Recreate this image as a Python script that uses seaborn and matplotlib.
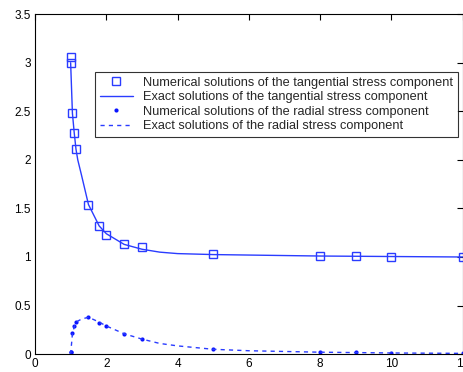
import matplotlib
matplotlib.use('Agg')
import matplotlib.pyplot as plt
import seaborn as sns

# numerical tangential stress (squares)
r_num = [1.0, 1.0, 1.05, 1.1, 1.15, 1.5, 1.8, 2.0, 2.5, 3.0, 5.0, 8.0, 9.0, 10.0, 12.0]
tang_num = [3.06, 3.0, 2.48, 2.28, 2.11, 1.54, 1.32, 1.23, 1.13, 1.10, 1.03, 1.01, 1.01, 1.0, 1.0]
# numerical radial stress (dots)
rad_num = [0.02, 0.02, 0.22, 0.29, 0.33, 0.38, 0.32, 0.29, 0.21, 0.155, 0.05, 0.025, 0.02, 0.015, 0.01]

# exact curves
r_ex = [1.0, 1.05, 1.1, 1.15, 1.2, 1.3, 1.5, 1.8, 2.0, 2.5, 3.0, 3.5, 4.0, 5.0, 6.0, 8.0, 10.0, 12.0]
tang_ex = [3.0, 2.48, 2.28, 2.11, 2.0, 1.85, 1.54, 1.32, 1.24, 1.13, 1.08, 1.05, 1.035, 1.025, 1.02, 1.01, 1.005, 1.0]
rad_ex = [0.0, 0.21, 0.28, 0.32, 0.34, 0.36, 0.38, 0.33, 0.29, 0.21, 0.155, 0.11, 0.085, 0.05, 0.035, 0.02, 0.012, 0.008]

blue = '#2a3cff'

sns.set_style('white')
plt.rcParams['font.family'] = ['Liberation Sans', 'DejaVu Sans']

fig = plt.figure(figsize=(4.64, 3.72), dpi=100)
ax = fig.add_axes([0.0754, 0.048, 0.922, 0.914])

sns.lineplot(x=r_num, y=tang_num, ax=ax, estimator=None, sort=False, linestyle='none',
             marker='s', markersize=6, markerfacecolor='none', markeredgecolor=blue,
             markeredgewidth=1.0, color=blue,
             label='Numerical solutions of the tangential stress component')
sns.lineplot(x=r_ex, y=tang_ex, ax=ax, estimator=None, color=blue, linewidth=1.0,
             label='Exact solutions of the tangential stress component')
sns.lineplot(x=r_num, y=rad_num, ax=ax, estimator=None, sort=False, linestyle='none',
             marker='o', markersize=3, markeredgewidth=0, color='#0a14ff',
             label='Numerical solutions of the radial stress component')
sns.lineplot(x=r_ex, y=rad_ex, ax=ax, estimator=None, color=blue, linewidth=1.0,
             linestyle=(0, (3, 3)),
             label='Exact solutions of the radial stress component')

ax.set_xlim(0, 12)
ax.set_ylim(0, 3.5)
ax.set_xticks(range(0, 13, 2))
ax.set_yticks([0, 0.5, 1, 1.5, 2, 2.5, 3, 3.5])
ax.set_yticklabels(['0', '0.5', '1', '1.5', '2', '2.5', '3', '3.5'])
ax.tick_params(direction='in', top=True, right=True, length=4, width=0.8,
               labelsize=8.5, colors='black', pad=3)
for s in ax.spines.values():
    s.set_color('black')
    s.set_linewidth(0.8)

leg = ax.legend(loc='upper right', bbox_to_anchor=(0.988, 0.829), borderaxespad=0,
                fontsize=9.2, frameon=True, fancybox=False, handlelength=2.6,
                handletextpad=0.8, labelspacing=0.2, borderpad=0.35)
leg.get_frame().set_edgecolor('black')
leg.get_frame().set_linewidth(0.8)

fig.savefig('out.png', dpi=100)
